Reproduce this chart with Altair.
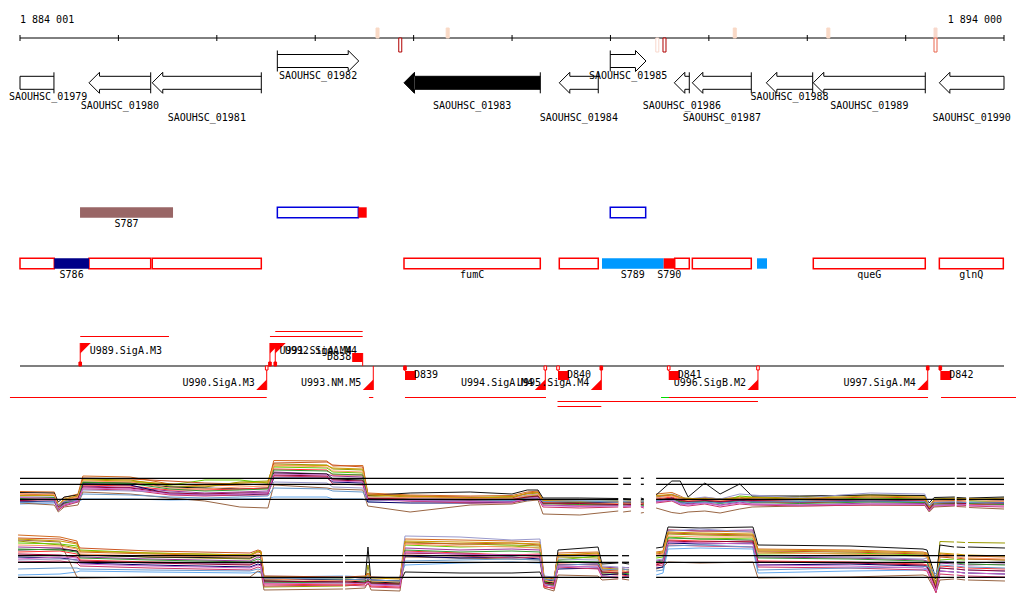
import altair as alt
import pandas as pd

# ---------------------------------------------------------------- data (bp)
WINDOW = [1884001, 1894000]
RULER_TICKS = [1884001, 1885001, 1886001, 1887001, 1888001, 1889001,
               1890001, 1891001, 1892001, 1893001, 1894000]
RULER_TEXT = ["1 884 001", "1 894 000"]

# small marks on the ruler: position, strand, intensity class
RF_POS = [1887634, 1887865, 1888347, 1890477, 1890550, 1891264, 1892215, 1893304, 1893304]
RF_STRAND = ["+", "-", "+", "-", "-", "+", "+", "+", "-"]
RF_LEVEL = [2, 4, 2, 1, 4, 2, 2, 1, 3]

GENE_NAME = ["SAOUHSC_01979", "SAOUHSC_01980", "SAOUHSC_01981", "SAOUHSC_01982",
             "SAOUHSC_01983", "SAOUHSC_01984", "SAOUHSC_01985", "SAOUHSC_01986",
             "SAOUHSC_01987", "SAOUHSC_01988", "SAOUHSC_01989", "SAOUHSC_01990"]
GENE_START = [1884001, 1884702, 1885345, 1886616, 1887903, 1889481,
              1889999, 1890650, 1890833, 1891585, 1892062, 1893343]
GENE_END = [1884346, 1885329, 1886453, 1887443, 1889288, 1889877,
            1890362, 1890802, 1891432, 1892056, 1893200, 1894000]
GENE_STRAND = ["-", "-", "-", "+", "-", "-", "+", "-", "-", "-", "-", "-"]
GENE_SELECTED = [False, False, False, False, True, False, False, False, False, False, False, False]
GENE_CUT_LEFT = [True] + [False] * 11
GENE_CUT_RIGHT = [False] * 11 + [True]
GENE_LABEL_ROW = [1, 2, 3, 0, 2, 3, 0, 2, 3, 1, 2, 3]

SEG_TRACK = ["A", "A", "A", "A",
             "B", "B", "B", "B", "B", "B", "B", "B", "B", "B", "B", "B", "B"]
SEG_START = [1884611, 1886616, 1887439, 1889999,
             1884001, 1884349, 1884702, 1885345, 1887903, 1889481, 1889915,
             1890542, 1890654, 1890833, 1891490, 1892062, 1893343]
SEG_END = [1885556, 1887439, 1887524, 1890359,
           1884349, 1884702, 1885329, 1886453, 1889288, 1889877, 1890542,
           1890654, 1890802, 1891432, 1891592, 1893200, 1893993]
SEG_KIND = ["brown", "blue_box", "red_fill", "blue_box",
            "red_box", "navy", "red_box", "red_box", "red_box", "red_box", "sky",
            "red_fill", "red_box", "red_box", "sky", "red_box", "red_box"]
SEG_LABEL = ["S787", "", "", "",
             "", "S786", "", "", "fumC", "", "S789", "S790", "", "", "", "queG", "glnQ"]

FLAG_NAME = ["U989.SigA.M3", "U991.SigA.M4", "U992.SigA.M4", "U990.SigA.M3",
             "U993.NM.M5", "U994.SigA.M4", "U995.SigA.M4", "U996.SigB.M2", "U997.SigA.M4"]
FLAG_POS = [1884613, 1886541, 1886595, 1886508, 1887591, 1889339, 1889908, 1891500, 1893225]
FLAG_STRAND = ["+", "+", "+", "-", "-", "-", "-", "-", "-"]
FLAG_BASE = ["solid", "solid", "solid", "open", "none", "open", "solid", "open", "solid"]

D_NAME = ["D838", "D839", "D840", "D841", "D842"]
D_POS = [1887483, 1887913, 1889468, 1890593, 1893353]
D_STRAND = ["+", "-", "-", "-", "-"]
D_BASE = ["none", "solid", "open", "open", "solid"]

TX_START = [1886595, 1884613, 1886541, 1883899, 1887547, 1887913, 1890515, 1890596,
            1893360, 1889463, 1889463]
TX_END = [1887483, 1885515, 1887483, 1886508, 1887591, 1889346, 1890596, 1893228,
          1894203, 1891500, 1889908]
TX_STRAND = ["+", "+", "+", "-", "-", "-", "-", "-", "-", "-", "-"]
TX_LANE = [1, 0, 0, 0, 0, 0, 0, 0, 0, 1, 2]
TX_PART = ["cds", "cds", "cds", "cds", "cds", "cds", "utr", "cds", "cds", "cds", "cds"]

# ---- expression profiles (two panels, probe breakpoints in bp)
TOP_POS = [1884001, 1884350, 1884390, 1884450, 1884590, 1884640, 1885120, 1885525,
           1885880, 1886235, 1886520, 1886580, 1887120, 1887180, 1887485, 1887535,
           1887965, 1888575, 1889000, 1889155, 1889265, 1889315, 1889690, 1890080,
           1890130, 1890210,
           1890310, 1890340,
           1890465, 1890625, 1890710, 1890790, 1890960, 1891115, 1891315, 1891440,
           1891925, 1892640, 1893195, 1893240, 1893290, 1893500,
           1893520, 1893615,
           1893645, 1894000]
TOP_SEG = [0] * 24 + [1] * 2 + [2] * 2 + [3] * 14 + [4] * 2 + [5] * 2
TOP_CUTOFFS = [10.34, 9.14, 6.14]
TOP_SERIES = {
    "c01": [7.7, 7.6, 4.5, 6.5, 7.2, 10.8, 10.6, 9.2, 8.8, 9.0, 9.2, 13.9, 13.8, 12.8, 12.9, 7.4, 7.0, 6.8, 6.9, 7.6, 7.8, 6.0, 5.8, 5.6, 5.8, 5.7, 5.9, 5.8, 7.2, 7.5, 6.8, 6.0, 6.5, 6.2, 6.6, 6.0, 5.8, 6.2, 6.0, 4.5, 5.8, 5.9, 5.9, 6.0, 6.1, 5.9],
    "c02": [6.8, 6.9, 4.2, 5.8, 6.5, 10.2, 10.0, 8.8, 8.6, 9.6, 9.8, 13.2, 13.0, 12.2, 12.0, 7.0, 6.6, 6.5, 6.7, 7.2, 7.4, 5.6, 5.5, 5.4, 5.5, 5.4, 5.6, 5.5, 6.6, 7.0, 6.2, 6.4, 6.0, 6.3, 6.1, 6.4, 6.6, 7.0, 6.8, 4.2, 6.2, 6.4, 6.3, 6.2, 6.0, 6.4],
    "c03": [6.0, 6.2, 4.6, 5.5, 6.2, 9.5, 9.6, 9.0, 10.0, 10.0, 9.4, 12.6, 12.4, 11.6, 11.4, 6.8, 6.2, 6.0, 6.2, 6.8, 7.0, 5.2, 5.4, 5.2, 5.2, 5.0, 5.2, 5.1, 6.0, 6.4, 5.8, 5.6, 5.8, 5.5, 6.8, 6.6, 6.0, 6.4, 6.2, 4.6, 5.6, 5.5, 5.5, 5.6, 5.8, 5.6],
    "c04": [5.8, 5.6, 3.9, 5.0, 5.8, 8.8, 8.5, 7.8, 7.4, 7.6, 7.8, 11.6, 11.2, 10.8, 10.6, 6.2, 5.8, 5.6, 5.8, 6.4, 6.6, 5.0, 4.8, 4.9, 4.8, 4.9, 4.8, 4.7, 5.6, 6.0, 5.4, 5.2, 5.5, 5.0, 5.6, 5.2, 5.0, 5.4, 5.3, 3.9, 5.0, 5.1, 5.0, 5.2, 5.0, 5.2],
    "c05": [5.2, 5.4, 4.8, 5.4, 5.6, 6.2, 6.2, 6.0, 6.1, 6.2, 6.3, 6.6, 6.6, 6.2, 6.2, 5.8, 6.0, 6.1, 6.0, 6.2, 6.2, 6.0, 6.0, 5.9, 6.0, 6.0, 6.0, 5.9, 6.2, 6.1, 5.0, 5.6, 5.4, 5.6, 5.8, 5.7, 6.0, 5.9, 5.8, 4.8, 5.6, 5.7, 5.7, 5.6, 5.6, 5.5],
    "c06": [5.4, 5.0, 3.6, 4.6, 5.0, 7.6, 7.2, 6.4, 5.8, 4.6, 4.4, 9.0, 8.4, 8.2, 8.0, 4.8, 3.6, 5.0, 5.2, 5.8, 6.0, 3.2, 3.0, 3.8, 3.6, 3.8, 3.4, 3.5, 4.4, 3.5, 3.3, 3.6, 3.8, 3.4, 4.2, 4.6, 4.8, 5.0, 4.9, 3.6, 4.6, 4.8, 4.7, 4.6, 4.5, 4.2],
    "c07": [7.5, 7.4, 5.6, 6.6, 7.0, 9.4, 9.4, 8.6, 8.4, 8.2, 8.4, 11.4, 11.2, 10.2, 10.0, 6.9, 7.4, 7.6, 7.2, 8.0, 8.0, 6.4, 6.4, 6.3, 6.3, 6.2, 6.4, 6.2, 7.0, 9.8, 9.8, 6.6, 9.4, 7.2, 9.2, 6.8, 6.8, 7.0, 6.9, 5.4, 6.5, 6.6, 6.5, 6.4, 6.4, 6.6],
    "c08": [6.4, 6.4, 4.2, 5.2, 6.0, 9.0, 8.8, 8.0, 8.0, 8.2, 8.4, 12.2, 12.0, 11.0, 11.0, 6.4, 6.2, 6.0, 6.0, 6.6, 6.8, 5.4, 5.0, 5.2, 5.1, 5.3, 5.2, 5.3, 6.2, 6.6, 6.0, 5.8, 6.2, 5.6, 6.0, 5.6, 5.4, 5.8, 5.6, 4.0, 5.4, 5.2, 5.3, 5.4, 5.2, 5.0],
    "c09": [5.6, 5.8, 4.4, 5.4, 6.0, 9.2, 9.0, 7.2, 7.0, 7.0, 7.2, 10.4, 10.4, 9.6, 9.4, 5.6, 5.4, 5.4, 5.6, 6.0, 6.2, 5.6, 5.6, 5.4, 5.4, 5.5, 5.5, 5.4, 5.8, 6.4, 5.6, 5.4, 5.8, 5.4, 5.9, 5.8, 5.6, 5.8, 5.6, 4.4, 5.6, 5.5, 5.6, 5.5, 5.4, 5.6],
    "c10": [6.2, 6.0, 4.0, 4.8, 5.6, 8.2, 8.0, 7.0, 6.8, 7.0, 7.0, 10.8, 10.6, 9.2, 9.0, 6.0, 5.8, 5.4, 5.4, 6.2, 6.4, 4.6, 4.4, 4.6, 4.5, 4.6, 4.6, 4.4, 5.4, 5.8, 5.0, 4.8, 5.2, 4.6, 5.2, 5.0, 4.8, 5.0, 5.0, 3.8, 4.8, 4.9, 4.8, 4.9, 4.8, 4.6],
    "c11": [6.6, 6.6, 4.4, 5.6, 6.4, 8.0, 7.8, 7.6, 7.2, 7.4, 7.6, 9.6, 9.4, 8.6, 8.4, 6.6, 6.4, 6.2, 6.4, 7.0, 7.2, 5.8, 5.7, 5.6, 5.6, 5.7, 5.7, 5.6, 6.4, 7.2, 6.6, 6.2, 6.6, 6.2, 7.2, 7.0, 6.4, 7.4, 7.2, 5.0, 6.0, 6.2, 6.1, 6.2, 6.2, 6.0],
    "c12": [7.0, 7.2, 5.0, 6.0, 6.8, 10.4, 10.2, 9.8, 9.4, 9.2, 9.0, 13.4, 13.6, 13.0, 12.6, 7.2, 6.8, 6.6, 6.4, 7.4, 7.6, 5.8, 5.6, 5.7, 5.6, 5.8, 5.8, 5.6, 6.8, 7.0, 6.4, 6.2, 6.0, 6.0, 6.3, 6.2, 6.2, 6.6, 6.4, 4.4, 6.0, 6.1, 6.0, 6.1, 6.0, 6.2],
    "c13": [6.9, 7.0, 4.8, 6.2, 6.9, 10.0, 9.8, 9.2, 9.0, 9.4, 9.6, 12.8, 12.9, 12.4, 12.2, 7.0, 6.8, 6.4, 6.6, 7.3, 7.5, 5.9, 5.7, 5.8, 5.7, 5.9, 5.7, 5.8, 6.9, 7.1, 6.5, 6.3, 6.3, 6.1, 6.4, 6.5, 6.3, 6.8, 6.6, 4.6, 6.1, 6.3, 6.2, 6.3, 6.3, 6.1],
    "c14": [7.3, 7.1, 4.3, 6.0, 6.6, 9.8, 9.6, 8.4, 8.2, 8.6, 8.8, 13.0, 12.6, 11.8, 11.6, 6.6, 6.5, 6.3, 6.2, 6.9, 7.1, 5.5, 5.2, 5.3, 5.3, 5.4, 5.4, 5.3, 6.4, 6.8, 6.3, 5.9, 6.1, 5.8, 6.2, 5.9, 5.7, 6.0, 5.9, 4.3, 5.7, 5.6, 5.6, 5.7, 5.5, 5.7],
    "c15": [6.3, 6.5, 4.1, 5.3, 6.1, 9.6, 9.3, 8.2, 7.8, 8.0, 8.2, 12.0, 11.8, 11.2, 11.0, 6.2, 6.0, 5.8, 5.9, 6.5, 6.7, 5.3, 5.1, 5.0, 5.0, 5.2, 5.0, 4.9, 5.9, 6.2, 5.7, 5.5, 5.7, 5.3, 5.8, 5.5, 5.3, 5.6, 5.5, 4.1, 5.2, 5.3, 5.3, 5.2, 5.3, 5.1],
    "c16": [5.9, 6.1, 4.6, 5.6, 6.3, 8.6, 8.4, 7.4, 7.2, 7.4, 7.4, 11.0, 10.8, 10.0, 9.8, 6.3, 6.1, 5.9, 6.1, 6.6, 6.8, 5.4, 5.3, 5.1, 5.2, 5.1, 5.1, 5.2, 6.0, 6.3, 5.9, 5.7, 5.9, 5.7, 6.0, 5.9, 5.7, 6.0, 5.8, 4.2, 5.5, 5.4, 5.4, 5.3, 5.5, 5.3],
    "c17": [5.5, 5.7, 4.9, 5.7, 5.9, 7.2, 7.0, 6.6, 6.4, 6.6, 6.8, 8.4, 8.2, 7.8, 7.6, 6.0, 5.9, 5.8, 5.9, 6.3, 6.4, 5.7, 5.8, 5.6, 5.7, 5.8, 5.8, 5.7, 5.9, 6.0, 5.4, 5.5, 5.6, 5.4, 5.7, 5.6, 5.7, 5.8, 5.7, 4.9, 5.5, 5.6, 5.6, 5.5, 5.5, 5.4],
    "c18": [6.5, 6.3, 4.1, 5.1, 5.9, 8.4, 8.2, 7.2, 7.0, 7.2, 7.4, 11.2, 11.0, 9.8, 9.6, 6.1, 5.9, 5.7, 5.6, 6.3, 6.5, 4.9, 4.7, 4.8, 4.7, 4.8, 4.7, 4.6, 5.6, 6.1, 5.2, 5.0, 5.4, 4.9, 5.4, 5.2, 5.0, 5.2, 5.1, 3.9, 4.9, 5.0, 5.0, 5.1, 4.9, 4.8],
}

BOT_POS = [1883981, 1884407, 1884580, 1884611, 1885322, 1886338, 1886419, 1886450,
           1886480, 1887283,
           1887304, 1887507, 1887537, 1887568, 1887862, 1887913, 1888472, 1889000,
           1889285, 1889326, 1889427, 1889468, 1889875, 1889915, 1890080,
           1890118, 1890190,
           1890465, 1890535, 1890586, 1890911, 1891449, 1891500, 1892435, 1893177,
           1893218, 1893309, 1893349, 1893492,
           1893520, 1893604,
           1893634, 1894010]
BOT_SEG = [0] * 10 + [1] * 15 + [2] * 2 + [3] * 12 + [4] * 2 + [5] * 2
BOT_CUTOFFS = [9.86, 8.54, 5.54]
BOT_SERIES = {
    "c01": [14.0, 13.6, 12.8, 10.6, 10.2, 9.8, 10.6, 10.4, 5.4, 5.0, 5.0, 5.2, 6.0, 5.0, 4.8, 13.2, 13.0, 12.8, 12.6, 5.2, 5.0, 10.4, 10.6, 7.2, 7.0, 7.0, 7.1, 10.6, 10.8, 15.0, 14.8, 14.6, 11.2, 11.0, 10.6, 10.4, 4.0, 10.2, 10.0, 10.0, 9.8, 9.8, 9.6],
    "c02": [12.8, 12.0, 11.4, 10.0, 9.6, 9.2, 10.0, 9.8, 3.6, 3.8, 3.8, 4.2, 8.0, 4.4, 4.2, 12.6, 12.2, 12.0, 11.8, 4.4, 4.0, 9.6, 9.4, 6.6, 6.4, 6.4, 6.2, 9.8, 10.0, 14.2, 14.0, 13.8, 10.6, 10.2, 9.8, 9.6, 3.2, 12.7, 12.6, 12.6, 12.5, 12.5, 12.4],
    "c03": [12.4, 12.2, 11.8, 11.0, 10.4, 10.0, 10.8, 10.6, 5.0, 5.2, 5.2, 5.0, 5.6, 4.8, 4.6, 12.0, 11.6, 11.8, 11.4, 4.8, 4.4, 9.0, 9.8, 6.0, 6.2, 6.2, 6.0, 9.4, 9.6, 13.6, 13.2, 13.4, 10.2, 10.4, 10.0, 9.8, 4.4, 9.0, 9.2, 9.1, 9.0, 9.2, 9.0],
    "c04": [11.6, 11.4, 10.8, 9.6, 9.2, 8.8, 9.6, 9.4, 4.4, 4.6, 4.6, 4.4, 5.2, 4.2, 4.0, 11.4, 11.0, 11.2, 11.0, 4.0, 3.8, 8.6, 8.4, 7.6, 7.4, 7.4, 7.5, 8.8, 9.0, 15.0, 14.8, 15.0, 9.6, 9.4, 9.0, 8.8, 3.6, 8.4, 8.2, 8.2, 8.0, 8.0, 8.2],
    "c05": [6.0, 6.2, 6.6, 6.8, 6.6, 6.4, 6.6, 6.4, 5.6, 5.8, 5.8, 5.6, 5.8, 5.4, 5.4, 8.0, 8.4, 8.6, 8.4, 5.6, 5.4, 7.6, 7.8, 6.8, 6.6, 6.6, 6.5, 6.0, 6.4, 11.2, 11.4, 11.2, 6.4, 6.8, 7.0, 7.2, 5.8, 7.4, 7.2, 7.2, 7.0, 7.0, 6.8],
    "c06": [13.0, 12.6, 5.6, 5.4, 5.6, 5.6, 6.8, 6.6, 3.0, 3.2, 3.2, 3.4, 4.6, 3.0, 2.8, 9.6, 9.4, 9.2, 9.0, 3.4, 2.8, 6.0, 5.8, 5.0, 5.2, 5.2, 5.0, 7.2, 7.6, 8.6, 8.4, 8.6, 5.4, 5.6, 6.0, 5.8, 2.6, 5.0, 5.2, 5.2, 5.0, 5.0, 4.8],
    "c07": [11.0, 11.2, 10.8, 10.0, 9.6, 9.4, 10.0, 9.8, 4.8, 4.6, 4.6, 4.8, 11.6, 4.6, 4.4, 6.6, 6.4, 6.4, 6.6, 4.6, 4.4, 11.0, 11.6, 8.2, 8.4, 8.4, 8.2, 11.4, 11.6, 15.6, 15.4, 15.6, 12.0, 11.8, 11.2, 11.0, 5.2, 12.0, 11.6, 11.6, 11.5, 11.6, 11.4],
    "c08": [10.6, 10.8, 10.2, 9.0, 8.6, 8.2, 8.8, 8.6, 4.2, 4.0, 4.0, 4.2, 4.8, 3.8, 3.6, 10.8, 10.4, 10.0, 10.2, 3.6, 3.4, 8.2, 8.0, 6.2, 6.0, 6.0, 5.8, 8.2, 8.6, 13.0, 12.8, 12.6, 8.8, 8.6, 8.2, 8.0, 3.0, 7.8, 7.6, 7.6, 7.4, 7.4, 7.2],
    "c09": [9.6, 9.4, 9.0, 8.4, 8.0, 7.6, 8.2, 8.0, 5.2, 5.0, 5.0, 5.2, 5.4, 5.0, 4.8, 9.8, 9.4, 9.6, 9.2, 5.0, 4.8, 7.2, 7.4, 6.0, 6.2, 6.2, 6.0, 7.4, 7.6, 12.4, 12.2, 12.4, 8.0, 8.2, 7.8, 7.6, 4.6, 6.8, 6.6, 6.6, 6.4, 6.4, 6.2],
    "c10": [8.6, 8.8, 8.4, 7.8, 7.4, 7.0, 7.6, 7.4, 3.8, 4.0, 4.0, 3.8, 4.2, 3.6, 3.4, 10.0, 9.8, 9.4, 9.6, 3.8, 3.2, 7.6, 7.2, 5.6, 5.4, 5.4, 5.6, 7.8, 8.0, 12.0, 11.8, 11.6, 7.6, 7.4, 7.0, 6.8, 2.4, 6.2, 6.0, 6.0, 5.8, 5.8, 5.6],
    "c11": [9.0, 9.2, 9.0, 8.6, 8.4, 8.2, 8.8, 8.6, 5.8, 5.6, 5.6, 5.4, 6.0, 5.6, 5.4, 13.8, 13.6, 13.0, 13.2, 5.8, 5.6, 9.2, 9.0, 7.8, 7.6, 7.6, 7.4, 9.0, 9.2, 14.8, 15.2, 14.6, 9.8, 9.6, 9.2, 9.4, 5.4, 8.8, 8.6, 8.6, 8.4, 8.4, 8.6],
    "c12": [13.4, 13.2, 12.4, 11.4, 10.8, 10.4, 11.0, 10.8, 5.8, 5.6, 5.6, 5.8, 6.4, 5.6, 5.4, 12.4, 12.2, 12.4, 12.0, 5.6, 5.2, 10.0, 10.2, 7.0, 6.8, 6.8, 6.6, 10.2, 10.4, 14.4, 14.2, 14.0, 10.8, 10.6, 10.2, 10.0, 3.8, 9.6, 9.4, 9.4, 9.2, 9.2, 9.0],
    "c13": [13.2, 12.8, 12.2, 10.8, 10.4, 10.0, 10.8, 10.6, 5.6, 5.4, 5.4, 5.6, 6.2, 5.4, 5.2, 12.8, 12.6, 12.4, 12.2, 5.4, 5.0, 10.0, 10.4, 7.4, 7.2, 7.2, 7.0, 10.4, 10.6, 14.6, 14.4, 14.2, 11.0, 10.8, 10.4, 10.2, 4.2, 10.4, 10.2, 10.2, 10.0, 10.0, 9.8],
    "c14": [12.0, 11.8, 11.2, 10.2, 9.8, 9.6, 10.2, 10.0, 5.2, 4.8, 4.8, 5.0, 5.8, 4.8, 4.6, 12.2, 11.8, 11.6, 11.4, 5.0, 4.6, 9.8, 10.0, 6.8, 6.6, 6.6, 6.8, 10.0, 10.2, 13.8, 13.6, 13.6, 10.4, 10.2, 9.8, 9.6, 3.6, 9.8, 9.6, 9.6, 9.4, 9.4, 9.2],
    "c15": [11.2, 11.0, 10.6, 9.4, 9.0, 8.6, 9.2, 9.0, 4.6, 4.4, 4.4, 4.6, 5.0, 4.4, 4.2, 11.0, 10.6, 10.8, 10.6, 4.2, 4.0, 8.8, 8.6, 6.4, 6.4, 6.4, 6.2, 8.6, 8.8, 13.4, 13.2, 13.0, 9.4, 9.2, 8.8, 8.6, 3.4, 8.6, 8.4, 8.4, 8.2, 8.2, 8.0],
    "c16": [10.2, 10.0, 9.6, 8.8, 8.4, 8.0, 8.6, 8.4, 4.8, 4.6, 4.6, 4.4, 4.8, 4.4, 4.2, 10.4, 10.2, 10.0, 9.8, 4.4, 4.2, 8.0, 8.2, 6.6, 6.4, 6.4, 6.6, 8.0, 8.4, 12.8, 12.6, 12.8, 8.6, 8.4, 8.0, 7.8, 3.4, 7.4, 7.2, 7.2, 7.0, 7.0, 6.8],
    "c17": [7.2, 7.4, 7.4, 7.2, 7.0, 6.8, 7.2, 7.0, 5.4, 5.2, 5.2, 5.0, 5.4, 5.0, 4.8, 8.8, 9.0, 9.2, 9.0, 5.2, 5.0, 8.0, 8.2, 7.0, 7.2, 7.2, 7.0, 6.8, 7.0, 11.8, 12.0, 11.6, 7.0, 7.4, 7.6, 7.8, 6.2, 8.0, 7.8, 7.8, 7.6, 7.6, 7.4],
    "c18": [9.2, 9.6, 9.4, 8.2, 7.8, 7.4, 8.0, 7.8, 4.2, 4.4, 4.4, 4.2, 4.6, 4.0, 3.8, 10.6, 10.2, 10.0, 10.0, 4.2, 3.6, 7.8, 7.6, 5.8, 5.6, 5.6, 5.8, 8.4, 8.6, 12.6, 12.4, 12.2, 8.0, 7.8, 7.4, 7.2, 2.8, 6.8, 6.6, 6.6, 6.4, 6.4, 6.2],
}

# ---------------------------------------------------------------- styles / layout
FONT = "DejaVu Sans Mono"
FS = 10
SERIES_COLORS = {"c01": "#d2691e", "c02": "#999900", "c03": "#66cc00", "c04": "#993399",
                 "c05": "#66aaee", "c06": "#996644", "c07": "#111111", "c08": "#ff3333",
                 "c09": "#000066", "c10": "#cc3366", "c11": "#9999cc", "c12": "#cc5522",
                 "c13": "#cc9900", "c14": "#ff9966", "c15": "#339933", "c16": "#990033",
                 "c17": "#6699cc", "c18": "#cc66cc"}
RF_COLORS = {1: "#f8d8cc", 2: "#f9d9c6", 3: "#e8674f", 4: "#b00000"}
SEG_FILL = {"brown": "#996666", "blue_box": "white", "red_fill": "#ff0000",
            "red_box": "white", "navy": "#000088", "sky": "#0099ff"}
SEG_STROKE = {"brown": "transparent", "blue_box": "#0000dd", "red_fill": "transparent",
              "red_box": "#ff0000", "navy": "transparent", "sky": "transparent"}
TX_COLORS = {"cds": "#ff0000", "utr": "#00dd00"}

# vertical layout, in page pixels
RULER_Y, TICK_Y, RULER_TEXT_Y = 38, (35, 41), 20
RF_Y = {"+": (28, 38), "-": (38, 52)}
GENE_Y = {"+": 61.0, "-": 82.8}
BODY, HEAD = 6.5, 10.5
LABEL_Y = [76, 97.3, 106.3, 118]
TRACK_Y = {"A": (207.3, 217.7), "B": (258.3, 268.7)}
TRACK_TEXT_Y = {"A": 224, "B": 275.3}
REG_Y, FLAG_TOP, FLAG_BOT = 366, 343, 390
TX_Y = {"+": [336.5, 331.5], "-": [397.5, 401.5, 406.5]}

XS = alt.Scale(domain=WINDOW)
YS = alt.Scale(domain=[8, 603], range=[0, 595])
TOP_SCALE = alt.Scale(domain=[0, 16], range=[522, 442])
BOT_SCALE = alt.Scale(domain=[0, 16], range=[597, 517])


def X(f):
    return alt.X(f, type="quantitative", scale=XS, axis=None)


def Y(f, scale=YS):
    return alt.Y(f, type="quantitative", scale=scale, axis=None)


def text(df, align, dx=0):
    return alt.Chart(df).mark_text(font=FONT, fontSize=FS, align=align, baseline="middle",
                                   dx=dx, color="black").encode(x=X("x"), y=Y("y"), text="t:N")


layers = []

# ---------------------------------------------------------------- ruler
ruler = pd.DataFrame({"x1": [WINDOW[0]], "x2": [WINDOW[1]], "y": [RULER_Y]})
layers.append(alt.Chart(ruler).mark_rule(color="black", strokeWidth=1).encode(
    x=X("x1"), x2=alt.X2("x2"), y=Y("y")))
ticks = pd.DataFrame({"pos": RULER_TICKS, "y1": TICK_Y[0], "y2": TICK_Y[1]})
layers.append(alt.Chart(ticks).mark_rule(color="black", strokeWidth=1).encode(
    x=X("pos"), y=Y("y1"), y2=alt.Y2("y2")))
layers.append(text(pd.DataFrame({"x": [WINDOW[0]], "y": [RULER_TEXT_Y], "t": [RULER_TEXT[0]]}), "left"))
layers.append(text(pd.DataFrame({"x": [WINDOW[1]], "y": [RULER_TEXT_Y], "t": [RULER_TEXT[1]]}), "right", -2))

rf = pd.DataFrame({"pos": RF_POS, "strand": RF_STRAND, "lvl": RF_LEVEL})
rf["y1"] = [RF_Y[s][0] for s in rf.strand]
rf["y2"] = [RF_Y[s][1] for s in rf.strand]
rf["sc"] = [RF_COLORS[l] for l in rf.lvl]
rf["fc"] = [RF_COLORS[l] if s == "+" else "white" for s, l in zip(rf.strand, rf.lvl)]
layers.append(alt.Chart(rf).mark_rect(xOffset=-1.5, x2Offset=1.5, strokeWidth=1).encode(
    x=X("pos"), x2=alt.X2("pos"), y=Y("y1"), y2=alt.Y2("y2"),
    fill=alt.Fill("fc:N", scale=None), stroke=alt.Stroke("sc:N", scale=None)))

# ---------------------------------------------------------------- genes
g = pd.DataFrame({"name": GENE_NAME, "start": GENE_START, "end": GENE_END,
                  "strand": GENE_STRAND, "sel": GENE_SELECTED,
                  "cut_l": GENE_CUT_LEFT, "cut_r": GENE_CUT_RIGHT, "row": GENE_LABEL_ROW})
g["yc"] = [GENE_Y[s] for s in g.strand]
g["yt"] = g.yc - BODY
g["yb"] = g.yc + BODY
g["fillc"] = ["black" if s else "white" for s in g.sel]
head_l = (g.strand == "-") & (~g.cut_l)
head_r = (g.strand == "+") & (~g.cut_r)

for sub, xo, x2o in [(g[head_l], HEAD, 0), (g[head_r], 0, -HEAD), (g[~head_l & ~head_r], 0, 0)]:
    if len(sub) == 0:
        continue
    base = alt.Chart(sub)
    layers.append(base.mark_rect(xOffset=xo, x2Offset=x2o, strokeWidth=0).encode(
        x=X("start"), x2=alt.X2("end"), y=Y("yt"), y2=alt.Y2("yb"),
        fill=alt.Fill("fillc:N", scale=None)))
    for yy in ["yt", "yb"]:
        layers.append(base.mark_rule(xOffset=xo, x2Offset=x2o, color="black", strokeWidth=1).encode(
            x=X("start"), x2=alt.X2("end"), y=Y(yy)))

edges = []
for r in g.itertuples():
    if r.strand == "-":
        if r.cut_l:
            edges.append((r.start, r.yt, r.yb))
        edges.append((r.end, r.yt, r.yb) if r.cut_r else (r.end, r.yc - HEAD, r.yc + HEAD))
    else:
        edges.append((r.start, r.yt, r.yb) if r.cut_l else (r.start, r.yc - HEAD, r.yc + HEAD))
        if r.cut_r:
            edges.append((r.end, r.yt, r.yb))
edges = pd.DataFrame(edges, columns=["x", "y1", "y2"])
layers.append(alt.Chart(edges).mark_rule(color="black", strokeWidth=1).encode(
    x=X("x"), y=Y("y1"), y2=alt.Y2("y2")))

HEAD_SIZE = (2 * HEAD) ** 2
k = BODY / HEAD
LEFT_HEAD = f"M1,-{k:.3f} L1,-1 L0,0 L1,1 L1,{k:.3f}"
RIGHT_HEAD = f"M-1,-{k:.3f} L-1,-1 L0,0 L-1,1 L-1,{k:.3f}"
layers.append(alt.Chart(g[head_l]).mark_point(shape=LEFT_HEAD, size=HEAD_SIZE, filled=True, opacity=1,
                                              stroke="black", strokeWidth=1).encode(
    x=X("start"), y=Y("yc"), fill=alt.Fill("fillc:N", scale=None)))
layers.append(alt.Chart(g[head_r]).mark_point(shape=RIGHT_HEAD, size=HEAD_SIZE, filled=True, opacity=1,
                                              stroke="black", strokeWidth=1).encode(
    x=X("end"), y=Y("yc"), fill=alt.Fill("fillc:N", scale=None)))

# labels centred on genes; a gene cut at the left edge gets its label pinned to the edge
gl = pd.DataFrame({"x": (g.start + g.end) / 2, "y": [LABEL_Y[i] for i in g.row], "t": g.name})
pinned = g.cut_l.values
layers.append(text(gl[~pinned], "center"))
gl_pin = gl[pinned].copy()
gl_pin["x"] = WINDOW[0]
layers.append(text(gl_pin, "left", -11))

# ---------------------------------------------------------------- feature tracks
sg = pd.DataFrame({"track": SEG_TRACK, "start": SEG_START, "end": SEG_END,
                   "kind": SEG_KIND, "label": SEG_LABEL})
sg["y1"] = [TRACK_Y[t][0] for t in sg.track]
sg["y2"] = [TRACK_Y[t][1] for t in sg.track]
sg["fc"] = [SEG_FILL[k_] for k_ in sg.kind]
sg["sc"] = [SEG_STROKE[k_] for k_ in sg.kind]
outlined = sg.kind.isin(["blue_box", "red_box"])
for sub in [sg[outlined], sg[~outlined]]:
    layers.append(alt.Chart(sub).mark_rect(strokeWidth=1.5).encode(
        x=X("start"), x2=alt.X2("end"), y=Y("y1"), y2=alt.Y2("y2"),
        fill=alt.Fill("fc:N", scale=None), stroke=alt.Stroke("sc:N", scale=None)))
lab = sg[sg.label != ""]
layers.append(text(pd.DataFrame({"x": (lab.start + lab.end) / 2,
                                 "y": [TRACK_TEXT_Y[t] for t in lab.track],
                                 "t": lab.label}), "center"))

# ---------------------------------------------------------------- regulatory track
layers.append(alt.Chart(pd.DataFrame({"x1": [WINDOW[0]], "x2": [WINDOW[1]], "y": [REG_Y]}))
              .mark_rule(color="black", strokeWidth=1.2).encode(x=X("x1"), x2=alt.X2("x2"), y=Y("y")))

tx = pd.DataFrame({"start": TX_START, "end": TX_END, "strand": TX_STRAND,
                   "lane": TX_LANE, "part": TX_PART})
tx["y"] = [TX_Y[s][l] for s, l in zip(tx.strand, tx.lane)]
tx["c"] = [TX_COLORS[p] for p in tx.part]
layers.append(alt.Chart(tx).mark_rule(strokeWidth=1).encode(
    x=X("start"), x2=alt.X2("end"), y=Y("y"), color=alt.Color("c:N", scale=None)))

fl = pd.DataFrame({"t": FLAG_NAME, "x": FLAG_POS, "strand": FLAG_STRAND, "base": FLAG_BASE})
fl["s1"] = [FLAG_TOP if s == "+" else REG_Y for s in fl.strand]
fl["s2"] = [REG_Y if s == "+" else FLAG_BOT for s in fl.strand]
fl["ya"] = [FLAG_TOP if s == "+" else FLAG_BOT for s in fl.strand]
fl["y"] = [350.5 if s == "+" else 383.3 for s in fl.strand]
layers.append(alt.Chart(fl).mark_rule(color="#ff0000", strokeWidth=1).encode(
    x=X("x"), y=Y("s1"), y2=alt.Y2("s2")))
FLAG_SIZE = (2 * 10.5) ** 2
layers.append(alt.Chart(fl[fl.strand == "+"]).mark_point(
    shape="M0,0 L1,0 L0,1 Z", size=FLAG_SIZE, filled=True, opacity=1, color="#ff0000").encode(
    x=X("x"), y=Y("ya")))
layers.append(alt.Chart(fl[fl.strand == "-"]).mark_point(
    shape="M0,0 L0,-1 L-1,0 Z", size=FLAG_SIZE, filled=True, opacity=1, color="#ff0000").encode(
    x=X("x"), y=Y("ya")))
layers.append(text(fl[fl.strand == "+"], "left", 9.5))
layers.append(text(fl[fl.strand == "-"], "right", -12))

dd = pd.DataFrame({"t": D_NAME, "x": D_POS, "strand": D_STRAND, "base": D_BASE})
dp = dd[dd.strand == "+"].copy()
dm = dd[dd.strand == "-"].copy()
dp["b1"], dp["b2"], dp["s1"], dp["s2"], dp["y"] = 353, 362, 353, REG_Y, 357
dm["b1"], dm["b2"], dm["s1"], dm["s2"], dm["y"] = 371, 380, REG_Y, 371, 375
layers.append(alt.Chart(dp).mark_rect(xOffset=-10.5, color="#ff0000").encode(
    x=X("x"), x2=alt.X2("x"), y=Y("b1"), y2=alt.Y2("b2")))
layers.append(alt.Chart(dm).mark_rect(x2Offset=11, color="#ff0000").encode(
    x=X("x"), x2=alt.X2("x"), y=Y("b1"), y2=alt.Y2("b2")))
layers.append(alt.Chart(pd.concat([dp, dm])).mark_rule(color="#ff0000", strokeWidth=1).encode(
    x=X("x"), y=Y("s1"), y2=alt.Y2("s2")))
layers.append(text(dp, "right", -11.5))
layers.append(text(dm, "left", 9))

# small base squares of flags and D boxes
bs = pd.concat([fl[["x", "strand", "base"]], dd[["x", "strand", "base"]]])
bs = bs[bs.base != "none"].copy()
bs["y1"] = [362 if s == "+" else REG_Y for s in bs.strand]
bs["y2"] = [REG_Y if s == "+" else 370 for s in bs.strand]
bs["fc"] = ["#ff0000" if b == "solid" else "white" for b in bs.base]
layers.append(alt.Chart(bs).mark_rect(xOffset=-1.3, x2Offset=1.3, stroke="#ff0000", strokeWidth=1).encode(
    x=X("x"), x2=alt.X2("x"), y=Y("y1"), y2=alt.Y2("y2"), fill=alt.Fill("fc:N", scale=None)))


# ---------------------------------------------------------------- expression panels
def panel(pos, segs, series, cutoffs, scale):
    rows = []
    for name, vals in series.items():
        if len(vals) != len(pos):
            raise ValueError(f"{name}: {len(vals)} values for {len(pos)} positions")
        for p, s, v in zip(pos, segs, vals):
            rows.append({"pos": p, "seg": s, "series": name, "v": v, "c": SERIES_COLORS[name]})
    df = pd.DataFrame(rows)
    out = [alt.Chart(df).mark_line(strokeWidth=1).encode(
        x=X("pos"), y=Y("v", scale), color=alt.Color("c:N", scale=None),
        detail=["series:N", "seg:N"])]
    ext = pd.DataFrame({"pos": pos, "seg": segs}).groupby("seg").pos.agg(["min", "max"]).reset_index()
    cut = pd.DataFrame([{"x1": r["min"], "x2": r["max"], "v": c}
                        for _, r in ext.iterrows() for c in cutoffs])
    out.append(alt.Chart(cut).mark_rule(color="black", strokeWidth=1.3).encode(
        x=X("x1"), x2=alt.X2("x2"), y=Y("v", scale)))
    return out


layers += panel(TOP_POS, TOP_SEG, TOP_SERIES, TOP_CUTOFFS, TOP_SCALE)
layers += panel(BOT_POS, BOT_SEG, BOT_SERIES, BOT_CUTOFFS, BOT_SCALE)

chart = alt.layer(*layers).resolve_scale(y="independent").properties(
    width=984, height=595,
    autosize=alt.AutoSizeParams(type="none"),
    padding={"left": 12, "right": 12, "top": 0, "bottom": 0},
).configure_view(stroke=None)

chart.save("out.html", embed_options={"renderer": "svg", "actions": False})
